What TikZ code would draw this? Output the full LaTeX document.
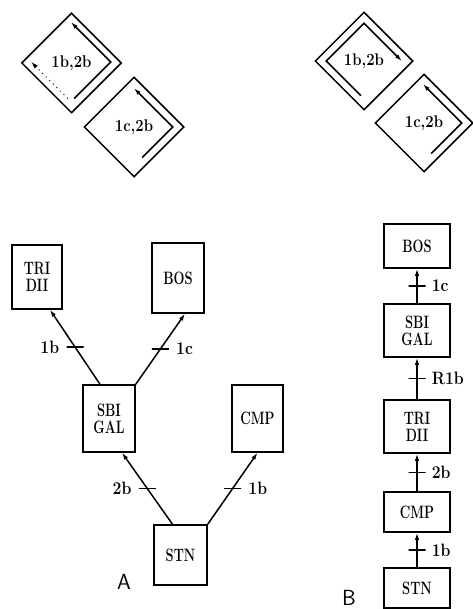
\documentclass[tikz,border=0pt]{standalone}
\usepackage{tikz}
\usepackage{graphicx}
\usetikzlibrary{shapes,arrows,arrows.meta,positioning}

\newcommand{\condtext}[1]{\scalebox{0.72}[1]{#1}}
\newcommand{\condlbl}[1]{\scalebox{0.88}[1]{#1}}

\begin{document}
\begin{tikzpicture}[x=1bp, y=-1bp, line width=1.5bp,
    box/.style={draw, rectangle, align=center, inner sep=0pt, font=\bfseries\fontsize{18}{17}\selectfont},
    loopbox/.style={draw, diamond, inner sep=0pt, minimum width=#1, minimum height=#1, font=\bfseries\fontsize{17}{19}\selectfont},
    inloop/.style={diamond, inner sep=0pt, minimum width=#1, minimum height=#1},
    tick/.style={draw, rectangle, inner sep=0pt, minimum width=17bp, minimum height=0pt, line width=1.2bp},
    lbl/.style={font=\bfseries\fontsize{18}{19}\selectfont, inner sep=1bp},
    link/.style={-{Latex[length=7bp,width=4.5bp]}},
    dots/.style={dash pattern=on 1bp off 4bp, line width=1bp},
    panel/.style={font=\sffamily\fontsize{22}{24}\selectfont},
  ]
    \useasboundingbox (0,0) rectangle (473,609);

    % loops, left pair
    \node[loopbox=100bp] (lpA) at (71.5,63) {\condlbl{1b,2b}};
    \node[inloop=78bp] (lpAin) at (71,62) {};
    \draw[link] (lpAin.-85) -- (lpAin.east) -- (lpAin.north);
    \draw[link, dots] (lpAin.-95) -- (lpAin.west);

    \node[loopbox=100bp] (lpB) at (134,127) {\condlbl{1c,2b}};
    \node[inloop=76bp] (lpBin) at (134,127) {};
    \draw[link] (lpBin.-75) -- (lpBin.east) -- (lpBin.north);

    % loops, right pair
    \node[loopbox=98bp] (lpC) at (364,61) {\condlbl{1b,2b}};
    \node[inloop=74bp] (lpCin) at (364,61) {};
    \draw[link] (lpCin.-95) -- (lpCin.west) -- (lpCin.north) -- (lpCin.east);

    \node[loopbox=98bp] (lpD) at (424,123) {\condlbl{1c,2b}};
    \node[inloop=76bp] (lpDin) at (423,123) {};
    \draw[link] (lpDin.-75) -- (lpDin.east) -- (lpDin.north);

    % tree A
    \node[box, minimum width=50bp, minimum height=64bp] (triA) at (37,277) {\condtext{TRI}\\\condtext{DII}};
    \node[box, minimum width=52bp, minimum height=70bp] (bosA) at (178,278) {\condtext{BOS}};
    \node[box, minimum width=52bp, minimum height=67bp] (sbiA) at (109,418.5) {\condtext{SBI}\\\condtext{GAL}};
    \node[box, minimum width=51bp, minimum height=67bp] (cmpA) at (257.5,418.5) {\condtext{CMP}};
    \node[box, minimum width=53bp, minimum height=60bp] (stnA) at (180.5,555) {\condtext{STN}};
    \node[panel] (panelA) at (124,582) {A};

    \draw[link] ([xshift=-9bp]sbiA.north) -- node[tick, label={[lbl, label distance=5bp]left:\condlbl{1b}}] {} ([xshift=13bp]triA.south);
    \draw[link] (sbiA.north east) -- node[tick, label={[lbl, label distance=5bp]right:\condlbl{1c}}] {} ([xshift=7bp]bosA.south);
    \draw[link] ([xshift=-8bp]stnA.north) -- node[tick, label={[lbl, label distance=5bp]left:\condlbl{2b}}] {} ([xshift=13bp]sbiA.south);
    \draw[link] (stnA.north east) -- node[tick, label={[lbl, label distance=5bp]right:\condlbl{1b}}] {} (cmpA.south);

    % tree B
    \node[box, minimum width=66bp, minimum height=44bp] (bosB) at (417,246) {\condtext{BOS}};
    \node[box, minimum width=66bp, minimum height=53bp] (sbiB) at (417,330.5) {\condtext{SBI}\\\condtext{GAL}};
    \node[box, minimum width=66bp, minimum height=53bp] (triB) at (417,426.5) {\condtext{TRI}\\\condtext{DII}};
    \node[box, minimum width=66bp, minimum height=40bp] (cmpB) at (417,512) {\condtext{CMP}};
    \node[box, minimum width=66bp, minimum height=40bp] (stnB) at (417,588) {\condtext{STN}};
    \node[panel] (panelB) at (349,598) {B};

    \draw[link] (sbiB) -- node[tick, label={[lbl, label distance=4bp]right:\condlbl{1c}}] {} (bosB);
    \draw[link] (triB) -- node[tick, label={[lbl, label distance=4bp]right:\condlbl{R1b}}] {} (sbiB);
    \draw[link] (cmpB) -- node[tick, label={[lbl, label distance=4bp]right:\condlbl{2b}}] {} (triB);
    \draw[link] (stnB) -- node[tick, label={[lbl, label distance=4bp]right:\condlbl{1b}}] {} (cmpB);
\end{tikzpicture}
\end{document}
